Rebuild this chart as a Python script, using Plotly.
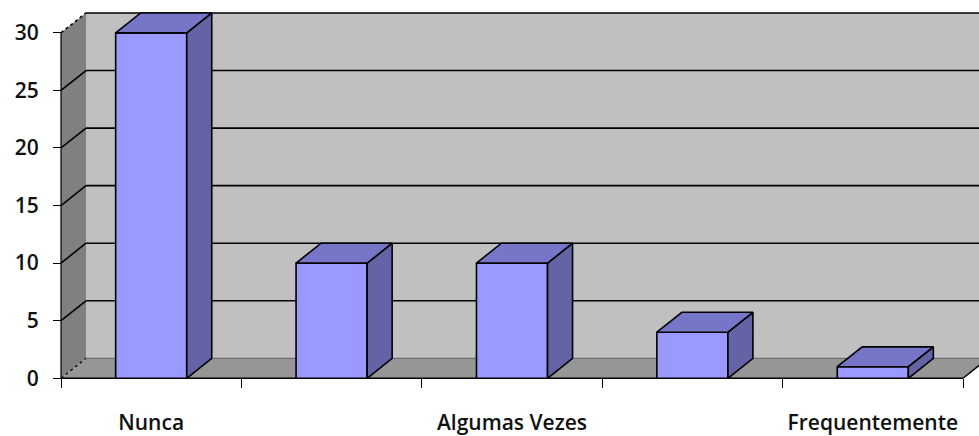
import plotly.graph_objects as go

# Survey answers (only alternate category labels are printed under the axis)
labels = ["Nunca", "", "Algumas Vezes", "", "Frequentemente"]
values = [30, 10, 10, 4, 1]
y_ticks = [0, 5, 10, 15, 20, 25, 30]

# Canvas and projection settings for the pseudo-3D column look
W, H = 979, 436
FRONT_LEFT_PX, FRONT_RIGHT_PX = 61, 963
ZERO_PX, TOP_PX = 380, 33
n = len(values)
px_x = (FRONT_RIGHT_PX - FRONT_LEFT_PX) / n
y_top = max(y_ticks)
px_y = (ZERO_PX - TOP_PX) / y_top
DX = 25 / px_x          # depth offset along x (data units)
DY = 20 / px_y          # depth offset along y (data units)
BAR_W = 0.394

x_pos = list(range(n))
x_lo, x_hi = -0.5, n - 0.5
x_range = [x_lo - FRONT_LEFT_PX / px_x, x_lo + (W - FRONT_LEFT_PX) / px_x]
y_range = [-(H - ZERO_PX) / px_y, ZERO_PX / px_y]

FRONT = "#9999FF"
TOP = "#7676C8"
SIDE = "#6363A6"
BACK_WALL = "#C0C0C0"
SIDE_WALL = "#808080"
FLOOR = "#969696"


def poly(pts):
    return "M " + " L ".join(f"{x},{y}" for x, y in pts) + " Z"


def line(x0, y0, x1, y1, color="black", width=1.6, dash="solid"):
    return dict(type="line", xref="x", yref="y", x0=x0, y0=y0, x1=x1, y1=y1,
                line=dict(color=color, width=width, dash=dash), layer="below")


shapes = []
# back wall
shapes.append(dict(type="rect", xref="x", yref="y", x0=x_lo + DX, x1=x_range[1] + 1,
                   y0=DY, y1=y_top + DY, fillcolor=BACK_WALL, line=dict(width=0),
                   layer="below"))
# left wall
shapes.append(dict(type="path", xref="x", yref="y",
                   path=poly([(x_lo, 0), (x_lo, y_top), (x_lo + DX, y_top + DY), (x_lo + DX, DY)]),
                   fillcolor=SIDE_WALL, line=dict(width=0), layer="below"))
# floor
shapes.append(dict(type="path", xref="x", yref="y",
                   path=poly([(x_lo, 0), (x_hi, 0), (x_hi + DX, DY), (x_lo + DX, DY)]),
                   fillcolor=FLOOR, line=dict(width=0), layer="below"))
# gridlines on the back wall and the left wall
for v in y_ticks:
    if v == 0:
        shapes.append(line(x_lo + DX, DY, x_hi + DX, DY, color="#6e6e6e", width=1.2))
        shapes.append(line(x_lo, 0, x_lo + DX, DY, width=1.2, dash="dot"))
    else:
        shapes.append(line(x_lo + DX, v + DY, x_range[1] + 1, v + DY))
        shapes.append(line(x_lo, v, x_lo + DX, v + DY,
                           dash="dot" if v == y_top else "solid", width=1.6))
# front axis lines and floor edge
shapes.append(line(x_lo, 0, x_lo, y_top, width=1.2))
shapes.append(line(x_lo, 0, x_hi, 0, width=1.4))
shapes.append(line(x_hi, 0, x_hi + DX, DY, width=1.4))

# top and side faces of each column
top_x, top_y, side_x, side_y = [], [], [], []
for c, v in zip(x_pos, values):
    l, r = c - BAR_W / 2, c + BAR_W / 2
    for px, py in [(l, v), (r, v), (r + DX, v + DY), (l + DX, v + DY), (l, v)]:
        top_x.append(px)
        top_y.append(py)
    top_x.append(None)
    top_y.append(None)
    for px, py in [(r, 0), (r, v), (r + DX, v + DY), (r + DX, DY), (r, 0)]:
        side_x.append(px)
        side_y.append(py)
    side_x.append(None)
    side_y.append(None)

fig = go.Figure()
fig.add_trace(go.Bar(x=x_pos, y=values, width=BAR_W,
                     marker=dict(color=FRONT, line=dict(color="black", width=1.6)),
                     hoverinfo="y"))
fig.add_trace(go.Scatter(x=side_x, y=side_y, mode="lines", fill="toself",
                         fillcolor=SIDE, line=dict(color="black", width=1.6),
                         hoverinfo="skip"))
fig.add_trace(go.Scatter(x=top_x, y=top_y, mode="lines", fill="toself",
                         fillcolor=TOP, line=dict(color="black", width=1.6),
                         hoverinfo="skip"))

tick_font = dict(family="Open Sans", size=21, color="#111111", weight=600)
fig.update_layout(
    width=W, height=H,
    margin=dict(l=0, r=0, t=0, b=0),
    paper_bgcolor="white", plot_bgcolor="white",
    showlegend=False,
    shapes=shapes,
    xaxis=dict(range=x_range, showgrid=False, zeroline=False, showline=False,
               tickmode="array", tickvals=x_pos, ticktext=labels, ticks="",
               tickfont=tick_font, anchor="free", position=(H - ZERO_PX) / H,
               ticklabelstandoff=30,
               minor=dict(tickmode="array", tickvals=[x_lo + k for k in range(n + 1)],
                          ticks="outside", ticklen=9, tickwidth=1.2,
                          tickcolor="black", showgrid=False)),
    yaxis=dict(range=y_range, showgrid=False, zeroline=False, showline=False,
               tickmode="array", tickvals=y_ticks, ticks="outside", ticklen=8,
               tickwidth=1.2, tickcolor="black", tickfont=tick_font,
               anchor="free", position=FRONT_LEFT_PX / W, ticklabelstandoff=10),
)

fig.write_html("out.html")
